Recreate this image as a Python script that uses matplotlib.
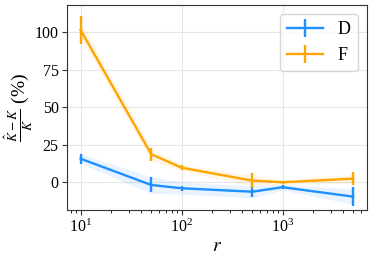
import numpy as np
import matplotlib
matplotlib.use("Agg")
import matplotlib.pyplot as plt

plt.rcParams["font.family"] = ["Liberation Serif", "DejaVu Serif"]
plt.rcParams["mathtext.fontset"] = "stix"

# data
r_vals = [10, 50, 100, 500, 1000, 5000]
d_mean = [15.7, -1.8, -4.0, -6.3, -3.3, -9.6]
d_err = [3.3, 5.0, 1.5, 3.5, 1.5, 6.2]
d_band = [3.3, 5.5, 4.0, 4.0, 2.0, 5.0]
f_mean = [101.5, 18.7, 9.7, 1.1, 0.0, 2.4]
f_err = [9.5, 4.3, 1.5, 4.8, 1.0, 4.5]
f_band = [5.0, 4.0, 2.0, 3.5, 1.5, 3.0]

blue = "#1e90ff"
orange = "#ffa500"

fig = plt.figure(figsize=(3.74, 2.58), dpi=100)
ax = fig.add_axes([0.179, 0.186, 0.802, 0.795])

for mean, err, band, col, lab in [(d_mean, d_err, d_band, blue, "D"),
                                  (f_mean, f_err, f_band, orange, "F")]:
    x = np.array(r_vals)
    m = np.array(mean)
    b = np.array(band)
    ax.fill_between(x, m - b, m + b, color=col, alpha=0.1, linewidth=0)
    ax.errorbar(x, m, yerr=err, color=col, label=lab, linewidth=1.7,
                elinewidth=1.7, capsize=0)

ax.set_xscale("log")
ax.set_ylim(-18.5, 118.2)
ax.set_yticks([0, 25, 50, 75, 100])
ax.grid(True, color="#e6e6e6", linewidth=0.8)
ax.set_axisbelow(True)
for sp in ax.spines.values():
    sp.set_color("#333333")
ax.tick_params(labelsize=11.5, colors="#333333", labelcolor="black", pad=2.5)
ax.set_xlabel(r"$r$", fontsize=14, labelpad=2)
ax.set_ylabel(r"$\frac{\hat{K}-K}{K}$ (%)", fontsize=14)
ax.yaxis.set_label_coords(-0.105, 0.5)
ax.legend(loc="upper right", fontsize=13, handlelength=2.0)

fig.savefig("out.png", dpi=100)
